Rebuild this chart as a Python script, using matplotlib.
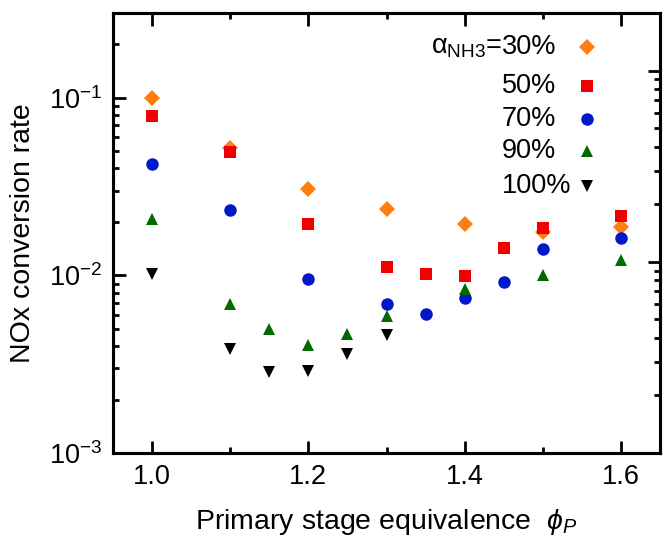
import matplotlib
matplotlib.use("Agg")
import matplotlib.pyplot as plt
from matplotlib.ticker import LogLocator, MultipleLocator, NullFormatter

plt.rcParams['font.family'] = ['Liberation Sans', 'DejaVu Sans']
plt.rcParams['mathtext.fontset'] = 'custom'
plt.rcParams['mathtext.rm'] = 'Liberation Sans'
plt.rcParams['mathtext.it'] = 'Liberation Sans:italic'
plt.rcParams['mathtext.default'] = 'regular'

# Data (phi_P, NOx conversion rate)
x30 = [1.0, 1.1, 1.2, 1.3, 1.4, 1.5, 1.6]
y30 = [0.100, 0.0518, 0.0308, 0.0235, 0.0195, 0.0175, 0.0188]

x50 = [1.0, 1.1, 1.2, 1.3, 1.35, 1.4, 1.45, 1.5, 1.6]
y50 = [0.079, 0.0492, 0.0194, 0.0111, 0.0102, 0.0099, 0.0143, 0.0186, 0.0216]

x70 = [1.0, 1.1, 1.2, 1.3, 1.35, 1.4, 1.45, 1.5, 1.6]
y70 = [0.0423, 0.0233, 0.0095, 0.00686, 0.0061, 0.00741, 0.00916, 0.0140, 0.0163]

x90 = [1.0, 1.1, 1.15, 1.2, 1.25, 1.3, 1.4, 1.5, 1.6]
y90 = [0.0208, 0.00693, 0.0050, 0.00405, 0.00467, 0.0059, 0.00834, 0.0101, 0.0122]

x100 = [1.0, 1.1, 1.15, 1.2, 1.25, 1.3]
y100 = [0.0102, 0.00387, 0.00287, 0.00291, 0.0036, 0.0046]

labels = ["30%", "50%", "70%", "90%", "100%"]
colors = ["#FF7F0E", "#F00000", "#0018C8", "#006A00", "#000000"]
markers = ["D", "s", "o", "^", "v"]
sizes = [8, 8.3, 9, 9, 9]

fig = plt.figure(figsize=(6.63, 5.43), dpi=100)
ax = fig.add_axes([113/663, 90/543, 547/663, 440/543])

series = [(x30, y30), (x50, y50), (x70, y70), (x90, y90), (x100, y100)]
for (xs, ys), c, m, s in zip(series, colors, markers, sizes):
    ax.plot(xs, ys, linestyle='none', marker=m, color=c, markersize=s,
            markeredgewidth=0)

ax.set_yscale('log')
ax.set_xlim(0.95, 1.65)
ax.set_ylim(1e-3, 0.3)
ax.xaxis.set_major_locator(MultipleLocator(0.2))
ax.xaxis.set_minor_locator(MultipleLocator(0.1))
ax.xaxis.set_major_formatter(matplotlib.ticker.FormatStrFormatter('%.1f'))
ax.yaxis.set_major_locator(LogLocator(base=10, numticks=10))
ax.yaxis.set_minor_locator(LogLocator(base=10, subs=range(2, 10), numticks=20))
ax.yaxis.set_minor_formatter(NullFormatter())

for sp in ax.spines.values():
    sp.set_linewidth(2.2)

ax.tick_params(which='both', direction='in', top=True, right=False,
               width=2, labelsize=19.5, pad=8)
ax.tick_params(which='major', length=9)
ax.tick_params(which='minor', length=4.5)

ax2 = ax.twinx()
ax2.set_yscale('log')
ax2.set_ylim(1e-3, 0.2)
ax2.yaxis.set_major_locator(LogLocator(base=10, numticks=10))
ax2.yaxis.set_minor_locator(LogLocator(base=10, subs=range(2, 10), numticks=20))
ax2.yaxis.set_major_formatter(NullFormatter())
ax2.yaxis.set_minor_formatter(NullFormatter())
ax2.tick_params(which='both', direction='in', width=2)
ax2.tick_params(which='major', length=9)
ax2.tick_params(which='minor', length=4.5)
for sp in ax2.spines.values():
    sp.set_linewidth(2.2)

ax.set_xlabel(r"Primary stage equivalence  $\mathit{\phi_P}$", fontsize=20.5, labelpad=12)
ax.set_ylabel("NOx conversion rate", fontsize=20.5, labelpad=9)

# Legend (manual, in axes coordinates)
leg_y = [0.923, 0.834, 0.759, 0.686, 0.607]
for lab, c, m, s, yy in zip(labels, colors, markers, sizes, leg_y):
    ax.plot([0.8665], [yy], transform=ax.transAxes, linestyle='none', marker=m,
            color=c, markersize=s, markeredgewidth=0, clip_on=False)
    ax.text(0.711, yy, lab, transform=ax.transAxes, fontsize=19.5,
            ha='left', va='center')
ax.text(0.711, leg_y[0], "α$_{\\mathregular{NH3}}$=", transform=ax.transAxes,
        fontsize=19.5, ha='right', va='center')

fig.savefig("out.png", dpi=100)
